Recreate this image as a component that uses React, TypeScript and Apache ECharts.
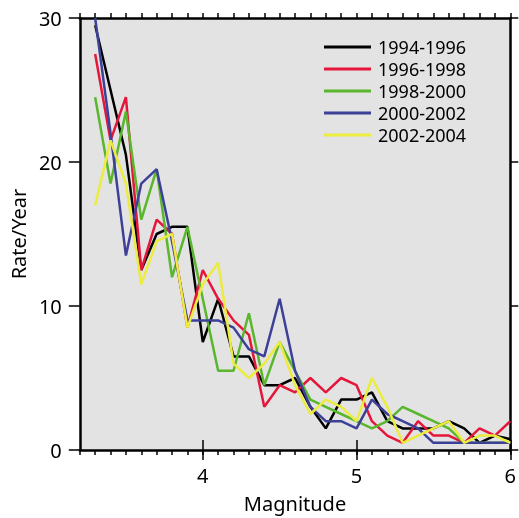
import React, { useEffect, useRef } from "react";
import * as echarts from "echarts";

const magnitudes = [3.3, 3.4, 3.5, 3.6, 3.7, 3.8, 3.9, 4.0, 4.1, 4.2, 4.3, 4.4, 4.5, 4.6, 4.7, 4.8, 4.9, 5.0, 5.1, 5.2, 5.3, 5.4, 5.5, 5.6, 5.7, 5.8, 5.9, 6.0];
const periods = ["1994-1996", "1996-1998", "1998-2000", "2000-2002", "2002-2004"];
const rate1994 = [29.5, 25, 20.5, 12.5, 15, 15.5, 15.5, 7.5, 10.5, 6.5, 6.5, 4.5, 4.5, 5, 3, 1.5, 3.5, 3.5, 4, 2, 1.5, 1.5, 1.5, 2, 1.5, 0.5, 1, 0.75];
const rate1996 = [27.5, 21.5, 24.5, 12.5, 16, 15, 8.5, 12.5, 10.5, 9, 8, 3, 4.5, 4, 5, 4, 5, 4.5, 2, 1, 0.5, 2, 1, 1, 0.5, 1.5, 1, 2];
const rate1998 = [24.5, 18.5, 23.5, 16, 19.5, 12, 15.5, 10.5, 5.5, 5.5, 9.5, 4.5, 7.5, 5.5, 3.5, 3, 2.5, 2, 1.5, 2, 3, 2.5, 2, 1.5, 0.5, 0.5, 0.5, 0.5];
const rate2000 = [30, 22, 13.5, 18.5, 19.5, 14.5, 9, 9, 9, 8.5, 7, 6.5, 10.5, 5.5, 3, 2, 2, 1.5, 3.5, 2.5, 2, 1.5, 0.5, 0.5, 0.5, 0.5, 0.5, 0.5];
const rate2002 = [17, 21.5, 18.5, 11.5, 14.5, 15, 8.5, 11.5, 13, 6, 5, 6, 7.5, 4.5, 2.5, 3.5, 3, 2, 5, 3, 0.5, 1, 1.5, 2, 0.5, 1, 1, 0.5];
const seriesColors = ["#000000", "#e4173b", "#5ab62d", "#3d4097", "#ebec3d"];
const xMajorTicks = [4, 5, 6];
const yRange = [0, 30];
const xRange = [3.2, 6];

const allRates = [rate1994, rate1996, rate1998, rate2000, rate2002];
const FONT = "Noto Sans";

export default function App() {
  const ref = useRef<HTMLDivElement>(null);
  useEffect(() => {
    const chart = echarts.init(ref.current!, null, { renderer: "svg" });
    const minorX = (position: "top" | "bottom", withLabels: boolean) => ({
      type: "value",
      position,
      min: xRange[0],
      max: xRange[1],
      interval: 0.1,
      axisLine: { show: true, onZero: false, lineStyle: { color: "#000", width: 2.5 } },
      axisTick: { show: true, inside: false, length: 5, lineStyle: { color: "#000", width: 1.5 } },
      axisLabel: withLabels
        ? {
            show: true,
            margin: 15,
            fontSize: 20,
            fontFamily: FONT,
            color: "#000",
            formatter: (v: number) => {
              const r = Math.round(v);
              return Math.abs(v - r) < 1e-6 && xMajorTicks.includes(r) ? String(r) : "";
            },
          }
        : { show: false },
      splitLine: { show: false },
      ...(withLabels
        ? {
            name: "Magnitude",
            nameLocation: "middle",
            nameGap: 43,
            nameTextStyle: { fontSize: 20, fontFamily: FONT, color: "#000" },
          }
        : {}),
    });
    const majorX = (position: "top" | "bottom") => ({
      type: "value",
      position,
      min: xRange[0],
      max: xRange[1],
      interval: 0.1,
      axisLine: { show: false },
      axisTick: { show: true, inside: false, length: 10, customValues: xMajorTicks, lineStyle: { color: "#000", width: 1.5 } },
      axisLabel: { show: false },
      splitLine: { show: false },
    });
    chart.setOption({
      animation: false,
      textStyle: { fontFamily: FONT },
      grid: {
        left: 76,
        right: 8,
        top: 18,
        bottom: 66,
        show: true,
        backgroundColor: "#e3e3e3",
        borderWidth: 0,
        containLabel: false,
      },
      legend: {
        orient: "vertical",
        left: 319,
        top: 33,
        itemGap: 4,
        icon: "rect",
        itemWidth: 47,
        itemHeight: 3,
        data: periods,
        textStyle: { fontSize: 18, lineHeight: 18, color: "#000", fontFamily: FONT, padding: [0, 0, 0, 2] },
      },
      xAxis: [minorX("bottom", true), majorX("bottom"), minorX("top", false), majorX("top")],
      yAxis: [
        {
          type: "value",
          position: "left",
          min: yRange[0],
          max: yRange[1],
          interval: 10,
          axisLine: { show: true, onZero: false, lineStyle: { color: "#000", width: 2.5 } },
          axisTick: { show: true, inside: false, length: 11, lineStyle: { color: "#000", width: 1.5 } },
          axisLabel: { margin: 18, fontSize: 20, fontFamily: FONT, color: "#000" },
          splitLine: { show: false },
          name: "Rate/Year",
          nameLocation: "middle",
          nameGap: 48,
          nameTextStyle: { fontSize: 20, fontFamily: FONT, color: "#000" },
        },
        {
          type: "value",
          position: "right",
          min: yRange[0],
          max: yRange[1],
          interval: 10,
          axisLine: { show: true, onZero: false, lineStyle: { color: "#000", width: 2.5 } },
          axisTick: { show: true, inside: false, length: 8, lineStyle: { color: "#000", width: 1.5 } },
          axisLabel: { show: false },
          splitLine: { show: false },
        },
      ],
      series: periods.map((name, i) => ({
        name,
        type: "line",
        xAxisIndex: 0,
        yAxisIndex: 0,
        showSymbol: false,
        symbol: "none",
        color: seriesColors[i],
        lineStyle: { color: seriesColors[i], width: 2.5 },
        data: magnitudes.map((m, j) => [m, allRates[i][j]]),
      })),
    });
    return () => chart.dispose();
  }, []);
  return <div ref={ref} style={{ position: "fixed", left: 0, top: 0, width: 519, height: 518 }} />;
}
